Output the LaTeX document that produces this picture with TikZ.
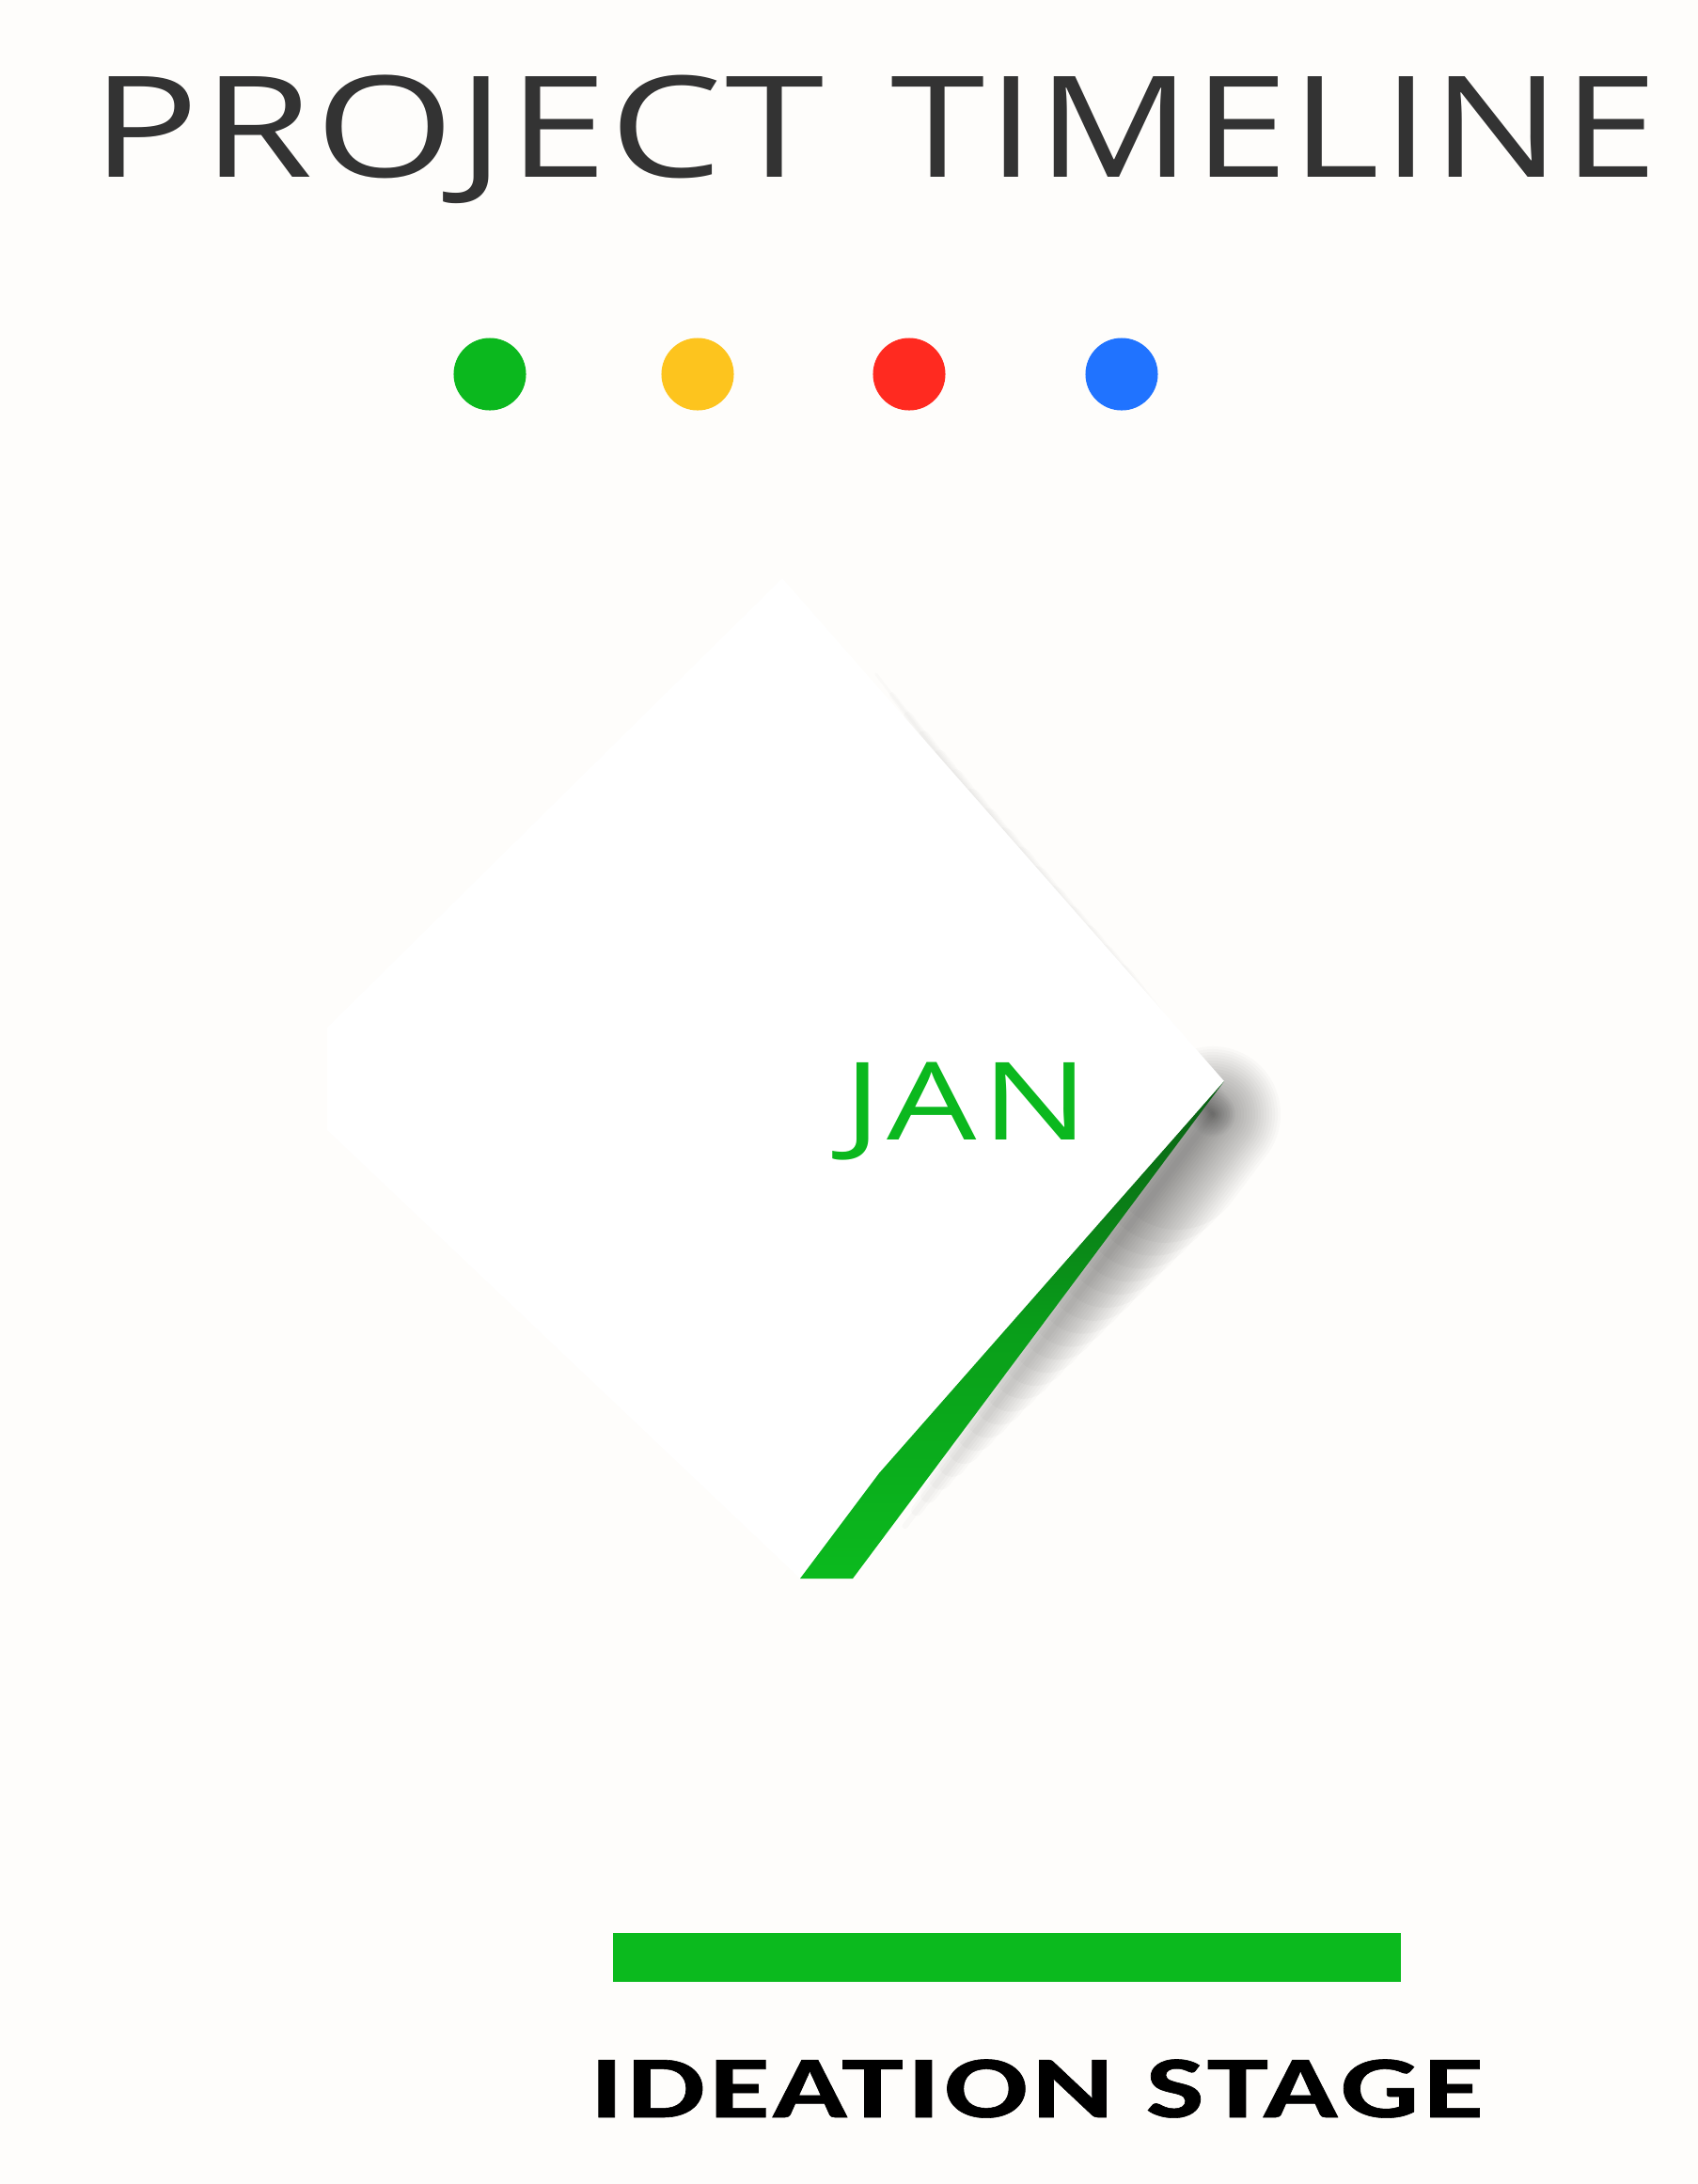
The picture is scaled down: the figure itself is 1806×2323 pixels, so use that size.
\documentclass[tikz,border=0pt]{standalone}
\usepackage{fontspec}
\usepackage{graphicx}
\usepackage{xcolor}
\definecolor{paper}{HTML}{FEFDFB}
\definecolor{heading}{HTML}{333333}
\definecolor{ideagreen}{HTML}{0BB81E}
\definecolor{bandgreen}{HTML}{0BBA1E}
\definecolor{banddark}{HTML}{0A5E14}
\definecolor{dotyellow}{HTML}{FDC41E}
\definecolor{dotred}{HTML}{FF2A20}
\definecolor{dotblue}{HTML}{2073FF}
\newfontfamily\titlefont[LetterSpace=1.5]{Open Sans}
\newfontfamily\monthfont[LetterSpace=3.7]{Open Sans}
\newfontfamily\stagefont[LetterSpace=3.4, BoldFeatures={FakeBold=0.6}]{Carlito}
\usepackage{tikz}
\usetikzlibrary{positioning, calc}

\tikzset{
  stagedot/.style={circle, inner sep=0pt, minimum size=0.77cm},
  label text/.style={anchor=base west, inner sep=0pt},
}

\begin{document}
\begin{tikzpicture}[x=0.01cm, y=-0.01cm]
  % page
  \fill[paper] (0,0) rectangle (1806,2323);
  \useasboundingbox (0,0) rectangle (1806,2323);

  % heading
  \node[label text, heading] (title) at (97,188)
    {\titlefont\fontsize{42.6}{50}\selectfont
     \scalebox{1.27}[1]{PROJECT}\hspace{20pt}\scalebox{1.21}[1]{TIMELINE}};

  % colour dots
  \node[stagedot, fill=ideagreen] (dotjan) at (521,398) {};
  \node[stagedot, fill=dotyellow] (dotfeb) at (742,398) {};
  \node[stagedot, fill=dotred]    (dotmar) at (967,398) {};
  \node[stagedot, fill=dotblue]   (dotapr) at (1193,398) {};

  % card corners
  \coordinate (top)    at (832,615);
  \coordinate (tip)    at (1302,1150);
  \coordinate (kink)   at (935,1567);
  \coordinate (foot)   at (851,1679);
  \coordinate (footr)  at (907,1679);
  \coordinate (leftlo) at (348,1202);
  \coordinate (lefthi) at (348,1093);

  % soft shadow, wide layers shorter
  \coordinate (shtip) at (1290,1185);
  \coordinate (shup)  at (915,695);
  \coordinate (shlow) at (950,1640);
  \foreach \i in {1,...,16}
    \draw[black, opacity=0.016, line width=\i*0.3mm, line cap=round]
      (shtip) -- ($(shtip)!{1-0.045*\i}!(shup)$);
  \foreach \i in {1,...,24}
    \draw[black, opacity=0.018, line width=\i*0.6mm, line cap=round]
      (shtip) -- ($(shtip)!{1-0.037*\i}!(shlow)$);

  % white card
  \fill[white] (top) -- (tip) -- (kink) -- (foot) -- (leftlo) -- (lefthi) -- cycle;

  % green ribbon along the lower edge
  \shade[top color=banddark, bottom color=bandgreen, middle color=bandgreen!85!black]
    (tip) -- (footr) -- (foot) -- (kink) -- cycle;

  \node[label text, ideagreen] (month) at (897,1212)
    {\scalebox{1.31}[1]{\monthfont\fontsize{32.7}{40}\selectfont JAN}};

  % stage bar and name
  \fill[bandgreen] (652,2056) rectangle (1490,2108);
  \node[label text, black] (stage) at (627,2252)
    {\scalebox{1.4}[1]{\stagefont\bfseries\fontsize{26.7}{32}\selectfont IDEATION STAGE}};
\end{tikzpicture}
\end{document}
